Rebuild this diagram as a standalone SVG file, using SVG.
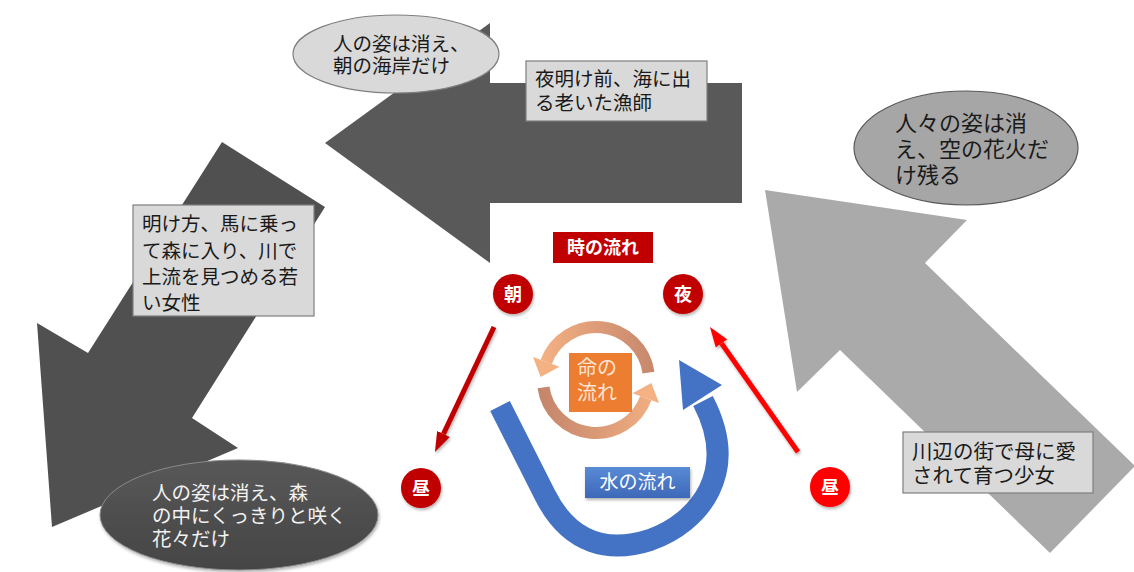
<svg xmlns="http://www.w3.org/2000/svg" width="1134" height="572" viewBox="0 0 1134 572">
<style>
text{font-family:"Noto Sans CJK JP","Noto Sans CJK SC",sans-serif;}
.lbl{font-size:19.5px;fill:#1a1a1a;}
.wht{fill:#f2f2f2;}
.box{fill:#d9d9d9;stroke:#7f7f7f;stroke-width:1.2;}
.dot{font-size:18px;font-weight:bold;fill:#ffffff;text-anchor:middle;}
</style>
<defs>
<marker id="hA" viewBox="0 0 20 14" refX="0" refY="7" markerWidth="20" markerHeight="14" markerUnits="userSpaceOnUse" orient="auto"><path d="M0,0 L20,7 L0,14 z" fill="#e60000"/></marker>
<marker id="hB" viewBox="0 0 20 14" refX="0" refY="7" markerWidth="20" markerHeight="14" markerUnits="userSpaceOnUse" orient="auto"><path d="M0,0 L20,7 L0,14 z" fill="#c00000"/></marker>
<marker id="hC" viewBox="0 0 20 14" refX="0" refY="7" markerWidth="20" markerHeight="14" markerUnits="userSpaceOnUse" orient="auto"><path d="M0,0 L20,7 L0,14 z" fill="#ff0000"/></marker>
<linearGradient id="gTop" gradientUnits="userSpaceOnUse" x1="540" y1="0" x2="660" y2="0"><stop offset="0" stop-color="#f4b183"/><stop offset="1" stop-color="#c4856b"/></linearGradient>
<linearGradient id="gBot" gradientUnits="userSpaceOnUse" x1="540" y1="0" x2="660" y2="0"><stop offset="0" stop-color="#c4856b"/><stop offset="1" stop-color="#f4b183"/></linearGradient>
<linearGradient id="gBlue" x1="0" y1="0" x2="0" y2="1"><stop offset="0" stop-color="#5a8ad6"/><stop offset="1" stop-color="#3d68b8"/></linearGradient>
<linearGradient id="gEll" x1="0" y1="0" x2="0" y2="1"><stop offset="0" stop-color="#585858"/><stop offset="1" stop-color="#454545"/></linearGradient>
<filter id="sh" x="-20%" y="-20%" width="140%" height="150%"><feDropShadow dx="1" dy="2" stdDeviation="1.5" flood-color="#000" flood-opacity="0.3"/></filter>
</defs>

<g id="arrow-right-gray">
<polygon points="765,190 967,220 925,263 1135,466 1050,553 840,350 797,392" fill="#aaaaaa"/>
</g>
<g id="arrow-top">
<polygon points="742,83 490,83 490,23 325,143 490,263 490,203 742,203" fill="#595959"/>
</g>
<g id="arrow-left">
<polygon points="222,142 325,207 192,418 238,448 52,527 37,323 88,353" fill="#505050"/>
</g>

<g id="ellipse-top">
<ellipse cx="396" cy="54" rx="103" ry="39" fill="#d9d9d9" stroke="#7f7f7f" stroke-width="1.2"/>
<text class="lbl" x="333" y="51">人の姿は消え、</text>
<text class="lbl" x="333" y="73">朝の海岸だけ</text>
</g>
<g id="box-fisherman">
<rect class="box" x="526" y="61" width="181" height="60"/>
<text class="lbl" x="535" y="86">夜明け前、海に出</text>
<text class="lbl" x="535" y="110">る老いた漁師</text>
</g>
<g id="box-woman">
<rect class="box" x="133" y="205" width="181" height="111"/>
<text class="lbl" x="142" y="231">明け方、馬に乗っ</text>
<text class="lbl" x="142" y="258">て森に入り、川で</text>
<text class="lbl" x="142" y="284">上流を見つめる若</text>
<text class="lbl" x="142" y="310">い女性</text>
</g>
<g id="ellipse-bottom">
<ellipse cx="239" cy="515" rx="139" ry="55" fill="url(#gEll)" stroke="#8a8a8a" stroke-width="1" filter="url(#sh)"/>
<text class="lbl wht" x="152" y="500">人の姿は消え、森</text>
<text class="lbl wht" x="152" y="523">の中にくっきりと咲く</text>
<text class="lbl wht" x="152" y="546">花々だけ</text>
</g>
<g id="ellipse-right">
<ellipse cx="966" cy="148" rx="112" ry="57" fill="#a6a6a6" stroke="#595959" stroke-width="1.2"/>
<text class="lbl" x="895" y="131" style="font-size:22px">人々の姿は消</text>
<text class="lbl" x="895" y="157" style="font-size:22px">え、空の花火だ</text>
<text class="lbl" x="895" y="183" style="font-size:22px">け残る</text>
</g>
<g id="box-girl">
<rect class="box" x="903" y="432" width="190" height="61"/>
<text class="lbl" x="912" y="459" style="font-size:20.5px">川辺の街で母に愛</text>
<text class="lbl" x="912" y="483" style="font-size:20.5px">されて育つ少女</text>
</g>

<g id="connectors">
<line x1="647" y1="292" x2="570" y2="292" stroke="#e60000" stroke-width="5" marker-end="url(#hA)" filter="url(#sh)"/>
<line x1="494" y1="327" x2="443.5" y2="433.9" stroke="#c00000" stroke-width="5" marker-end="url(#hB)" filter="url(#sh)"/>
<line x1="798" y1="452" x2="721.5" y2="343.4" stroke="#ff0000" stroke-width="5" marker-end="url(#hC)" filter="url(#sh)"/>
</g>

<g id="life-cycle">
<path d="M 648.5 372.6 A 53 53 0 0 0 546.2 361.9" fill="none" stroke="url(#gTop)" stroke-width="12"/>
<polygon points="559.4,366.7 533,357.1 540.7,376.9" fill="#f4b183"/>
<path d="M 543.5 387.4 A 53 53 0 0 0 645.8 398.1" fill="none" stroke="url(#gBot)" stroke-width="12"/>
<polygon points="659,402.9 632.6,393.3 651.3,383.1" fill="#f4b183"/>
</g>

<g id="water-flow">
<path d="M 500 406 L 545 495 C 570 545, 610 553, 650 540 C 700 522, 740 472, 703 401" fill="none" stroke="#4472c4" stroke-width="22"/>
<polygon points="679,360 722,385 683,410" fill="#4472c4"/>
</g>

<g id="label-time">
<rect x="553" y="232" width="100" height="31" fill="#c00000"/>
<text x="603" y="254" style="font-size:18px;font-weight:bold;fill:#ffffff;text-anchor:middle">時の流れ</text>
</g>
<g id="label-life">
<rect x="569" y="353" width="63" height="59" fill="#ed7d31"/>
<text x="577" y="375" style="font-size:20px;fill:#fbe5d6">命の</text>
<text x="577" y="400" style="font-size:20px;fill:#fbe5d6">流れ</text>
</g>
<g id="label-water">
<rect x="585" y="467" width="105" height="31" fill="url(#gBlue)" filter="url(#sh)"/>
<text x="637.5" y="489" style="font-size:19px;fill:#ffffff;text-anchor:middle">水の流れ</text>
</g>

<g id="node-asa">
<circle cx="513" cy="294" r="20" fill="#c00000" filter="url(#sh)"/>
<text class="dot" x="513" y="300.5">朝</text>
</g>
<g id="node-yoru">
<circle cx="683" cy="294" r="20" fill="#c00000" filter="url(#sh)"/>
<text class="dot" x="683" y="300.5">夜</text>
</g>
<g id="node-hiru-left">
<circle cx="421" cy="488" r="20" fill="#c00000" filter="url(#sh)"/>
<text class="dot" x="421" y="494.5">昼</text>
</g>
<g id="node-hiru-right">
<circle cx="830" cy="487" r="20" fill="#ff0000" filter="url(#sh)"/>
<text class="dot" x="830" y="493.5">昼</text>
</g>
</svg>
